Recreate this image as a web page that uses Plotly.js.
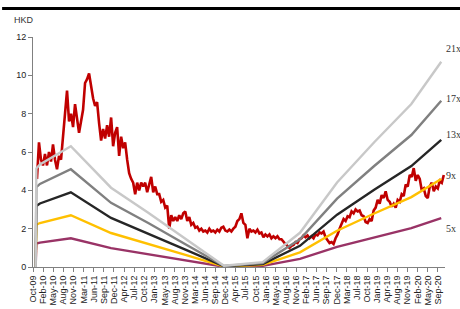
<!DOCTYPE html>
<html>
<head>
<meta charset="utf-8">
<script src="https://cdn.plot.ly/plotly-3.0.1.min.js"></script>
<style>html,body{margin:0;padding:0;background:#fff;}#chart{width:460px;height:309px;}</style>
</head>
<body>
<div id="chart"></div>
<script>
// ---- data ----
var tickLabels = ["Oct-09","Feb-10","May-10","Aug-10","Nov-10","Mar-11","Jun-11","Sep-11","Dec-11","Apr-12","Jul-12","Oct-12","Jan-13","May-13","Aug-13","Nov-13","Mar-14","Jun-14","Sep-14","Dec-14","Apr-15","Jul-15","Oct-15","Jan-16","May-16","Aug-16","Nov-16","Feb-17","Jun-17","Sep-17","Dec-17","Mar-18","Jul-18","Oct-18","Jan-19","Apr-19","Aug-19","Nov-19","Feb-20","May-20","Sep-20"];

// share price (HKD), sampled roughly every 20 days from early Dec 2009
var priceStart = "2009-12-03";
var priceStepDays = 19.7;
var price = [
4.6,6.5,5.6,5.3,5.9,5.3,6.0,5.5,6.4,5.6,
5.1,5.8,5.6,7.0,8.0,9.2,7.6,8.0,7.3,8.5,
7.8,7.0,7.6,8.2,9.6,9.8,10.1,9.4,8.8,8.4,
8.6,7.5,6.6,7.2,6.7,7.4,6.8,7.8,6.3,7.0,
7.3,5.8,6.8,6.2,6.5,5.6,4.9,4.6,
4.4,3.8,4.4,4.0,4.4,4.2,4.4,3.9,4.3,4.7,
3.9,4.2,3.8,3.8,3.4,3.5,3.1,3.2,2.0,2.7,
2.4,2.6,2.4,2.7,2.5,2.8,2.9,2.4,2.6,2.2,
2.3,2.05,2.1,1.9,2.0,1.85,1.9,1.8,2.0,1.85,
1.9,1.8,1.95,1.85,2.05,2.1,1.9,1.85,1.95,1.85,
2.0,2.1,2.4,2.5,2.8,2.3,2.2,1.5,2.0,1.85,
1.9,1.8,1.95,1.75,1.8,1.55,1.7,1.6,1.7,1.5,
1.6,1.5,1.6,1.45,1.45,1.3,
1.2,1.1,1.0,1.1,1.15,1.3,1.25,1.45,1.5,1.65,
1.55,1.65,1.5,1.6,1.5,1.7,1.65,1.8,1.75,1.85,
1.55,1.4,1.25,1.3,1.2,
1.5,1.7,2.0,2.3,2.5,2.4,2.65,2.6,2.9,2.8,
3.0,2.9,2.95,2.7,2.65,2.35,2.3,2.5,2.4,2.95,
3.1,3.5,3.3,3.75,3.6,3.95,3.5,3.4,3.15,3.3,
3.1,3.5,3.4,3.8,3.7,4.3,4.2,4.8,4.7,5.16,
4.5,4.8,4.6,4.0,4.1,3.7,3.6,4.2,4.4,3.95,
4.2,4.1,4.5,4.4,4.8];

// EPS path used for the PE bands
var epsDates = ["2009-11-20","2009-11-27","2010-01-01","2010-11-01","2011-12-01","2012-12-01","2013-12-01","2014-12-15","2015-12-31","2016-12-31","2017-12-31","2018-12-31","2019-12-31","2020-10-20"];
var epsValues = [0,0.245,0.255,0.30,0.197,0.135,0.07,0.003,0.012,0.085,0.21,0.31,0.405,0.51];

var multiples = [5, 9, 13, 17, 21];
var bandNames = ["5x","9x","13x","17x","21x"];
var bandColors = ["#993366","#FFC000","#262626","#808080","#C8C8C8"];
var bandLabelY = [2.0, 4.75, 6.9, 8.8, 11.4];

// ---- helpers ----
var axisStart = "2009-10-25";
var axisEnd = "2020-11-26";
var tickStepDays = 99.5;
function addDays(iso, d) {
  var t = new Date(iso + "T00:00:00Z").getTime() + d * 86400000;
  return new Date(t).toISOString().slice(0, 19).replace("T", " ");
}

var priceDates = price.map(function (_, i) { return addDays(priceStart, i * priceStepDays); });
var tickVals = tickLabels.map(function (_, i) { return addDays(axisStart, i * tickStepDays); });

var traces = [{
  x: priceDates, y: price, type: "scatter", mode: "lines",
  line: {color: "#C00000", width: 2.6}, hoverinfo: "skip", showlegend: false
}];
multiples.forEach(function (m, k) {
  traces.push({
    x: epsDates, y: epsValues.map(function (e) { return e * m; }),
    type: "scatter", mode: "lines", name: bandNames[k],
    line: {color: bandColors[k], width: 2.4}, hoverinfo: "skip", showlegend: false
  });
});

var annotations = [{
  text: "HKD", xref: "paper", yref: "paper", x: -0.05, y: 1.074,
  xanchor: "left", yanchor: "middle", showarrow: false,
  font: {family: "Liberation Sans, Arial, sans-serif", size: 9, color: "#333"}
}];
bandNames.forEach(function (n, k) {
  annotations.push({
    text: n, xref: "paper", yref: "y", x: 0.997, y: bandLabelY[k],
    xanchor: "left", yanchor: "middle", showarrow: false,
    font: {family: "Liberation Serif, Times New Roman, serif", size: 10, color: "#333"}
  });
});

var layout = {
  width: 460, height: 309,
  margin: {l: 33, r: 15, t: 37, b: 42, pad: 0},
  paper_bgcolor: "#fff", plot_bgcolor: "#fff",
  showlegend: false,
  xaxis: {
    type: "date", range: [axisStart, axisEnd],
    tickmode: "array", tickvals: tickVals, ticktext: tickLabels,
    tickangle: -90, ticks: "outside", ticklen: 4, tickcolor: "#808080",
    showline: true, linecolor: "#808080", linewidth: 1,
    showgrid: false, zeroline: false, automargin: false,
    tickfont: {family: "Liberation Sans, Arial, sans-serif", size: 9, color: "#222"}
  },
  yaxis: {
    range: [0, 12], dtick: 2, ticks: "outside", ticklen: 4, tickcolor: "#808080",
    showline: true, linecolor: "#808080", linewidth: 1,
    showgrid: false, zeroline: false, automargin: false,
    tickfont: {family: "Liberation Sans, Arial, sans-serif", size: 9, color: "#222"}
  },
  shapes: [{
    type: "line", xref: "paper", yref: "paper",
    x0: -0.075, x1: 1.04, y0: 1.124, y1: 1.124,
    line: {color: "#000", width: 3}
  }],
  annotations: annotations
};

Plotly.newPlot("chart", traces, layout, {staticPlot: true, displayModeBar: false});
</script>
</body>
</html>
